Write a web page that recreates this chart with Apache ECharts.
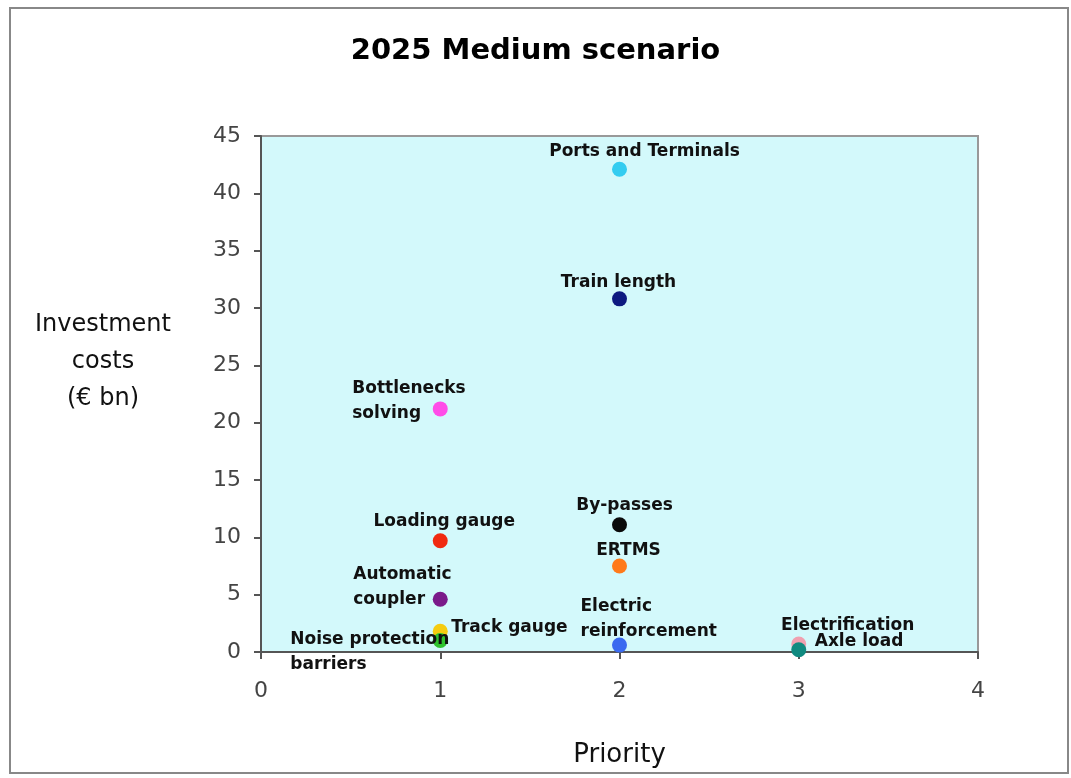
<!DOCTYPE html>
<html>
<head>
<meta charset="utf-8">
<script src="https://cdn.jsdelivr.net/npm/echarts@6/dist/echarts.min.js"></script>
<style>
  html, body { margin: 0; padding: 0; background: #fff; }
  #chart { width: 1071px; height: 778px; }
</style>
</head>
<body>
<div id="chart"></div>
<script>
// measures, their priority and investment cost (€ bn)
const names = ['Ports and Terminals', 'Train length', 'Bottlenecks\nsolving', 'Loading gauge',
  'By-passes', 'ERTMS', 'Automatic\ncoupler', 'Track gauge', 'Noise protection\nbarriers',
  'Electric\nreinforcement', 'Electrification', 'Axle load'];
const priority = [2, 2, 1, 1, 2, 2, 1, 1, 1, 2, 3, 3];
const costs = [42.1, 30.8, 21.2, 9.7, 11.1, 7.5, 4.6, 1.8, 1.0, 0.6, 0.7, 0.2];
const xTicks = [0, 1, 2, 3, 4];
const yTicks = [0, 5, 10, 15, 20, 25, 30, 35, 40, 45];

const colors = ['#33ccf0', '#0d1a80', '#ff4de8', '#f02a10', '#0a0a0a', '#ff7a1a',
  '#7a1a8a', '#f5cc10', '#2ec22e', '#3a6af0', '#f0a0b0', '#108a80'];
// label placement [align, dx, dy]
const labelPos = [
  ['center', 25, -18], ['center', -1, -16], ['left', -88, -8], ['center', 4, -19],
  ['center', 5, -19], ['center', 9, -15], ['left', -87, -12], ['left', 11, -4],
  ['left', -150, 12], ['left', -39, -26], ['center', 49, -18], ['left', 16, -8]
];

const chart = echarts.init(document.getElementById('chart'));

const points = names.map((n, i) => ({
  value: [priority[i], costs[i]],
  name: n,
  itemStyle: { color: colors[i], opacity: 1 },
  label: {
    show: true,
    position: 'inside',
    formatter: n,
    align: labelPos[i][0],
    verticalAlign: 'middle',
    offset: [labelPos[i][1], labelPos[i][2]],
    color: '#111',
    fontFamily: 'DejaVu Sans',
    fontWeight: 'bold',
    fontSize: 17,
    lineHeight: 25
  }
}));

chart.setOption({
  backgroundColor: '#fff',
  animation: false,
  title: {
    text: '2025 Medium scenario',
    left: 'center',
    top: 32,
    textStyle: { fontFamily: 'DejaVu Sans', fontWeight: 'bold', fontSize: 29, color: '#000' }
  },
  graphic: [
    {
      type: 'rect',
      shape: { x: 10, y: 8, width: 1058, height: 765 },
      style: { fill: 'none', stroke: '#888', lineWidth: 2 }
    },
    {
      type: 'text',
      x: 103, y: 362,
      style: {
        text: 'Investment\ncosts\n(€ bn)',
        align: 'center', verticalAlign: 'middle',
        fontFamily: 'DejaVu Sans', fontSize: 24, lineHeight: 37, fill: '#111'
      }
    }
  ],
  grid: {
    left: 261, right: 93, top: 136, bottom: 126,
    show: true, backgroundColor: '#d3f9fb', borderColor: '#999', borderWidth: 2
  },
  xAxis: {
    type: 'value', min: xTicks[0], max: xTicks[xTicks.length - 1], interval: 1,
    name: 'Priority', nameLocation: 'middle', nameGap: 90,
    nameTextStyle: { fontFamily: 'DejaVu Sans', fontSize: 26, color: '#111' },
    axisLine: { show: true, onZero: false, lineStyle: { color: '#555', width: 2 } },
    axisTick: { show: true, length: 7, lineStyle: { color: '#555', width: 2 } },
    axisLabel: { fontFamily: 'DejaVu Sans', fontSize: 22, color: '#444', margin: 28 },
    splitLine: { show: false }
  },
  yAxis: {
    type: 'value', min: yTicks[0], max: yTicks[yTicks.length - 1], interval: 5,
    axisLine: { show: true, lineStyle: { color: '#555', width: 2 } },
    axisTick: { show: true, length: 7, lineStyle: { color: '#555', width: 2 } },
    axisLabel: { fontFamily: 'DejaVu Sans', fontSize: 22, color: '#444', margin: 20 },
    splitLine: { show: false }
  },
  series: [{
    type: 'scatter',
    symbolSize: 15,
    data: points,
    emphasis: { disabled: true }
  }]
});
</script>
</body>
</html>
